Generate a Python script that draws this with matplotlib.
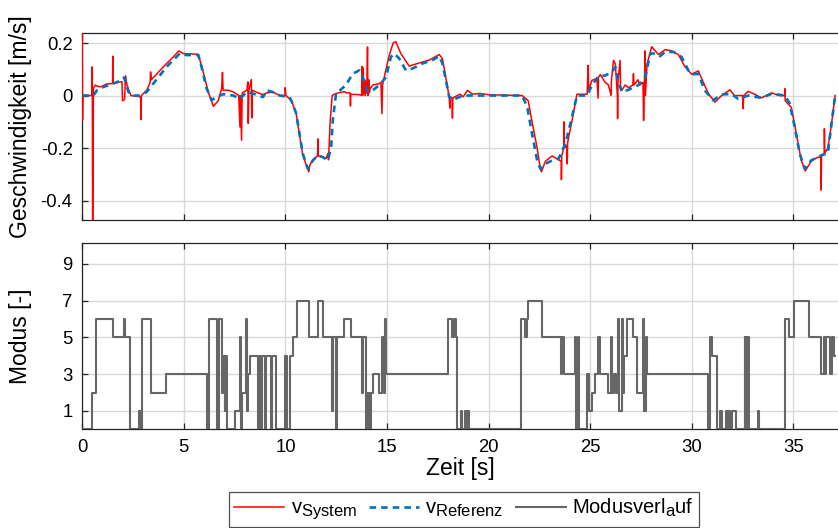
import matplotlib
matplotlib.use("Agg")
import matplotlib.pyplot as plt
try:
    import matplotlib._mathtext as _mt
    _mt.SHRINK_FACTOR = 0.82
except Exception:
    pass

plt.rcParams['font.family'] = ['Liberation Sans', 'DejaVu Sans']
plt.rcParams['axes.unicode_minus'] = False
plt.rcParams['mathtext.fontset'] = 'custom'
plt.rcParams['mathtext.rm'] = 'Liberation Sans'
plt.rcParams['mathtext.it'] = 'Liberation Sans:italic'

# ---------------- data ----------------
ref_t = [0, 0.55, 0.72, 1.05, 1.54, 1.95, 2.06, 2.27, 2.44, 2.84, 3.17, 3.5, 3.83, 4.15,
         4.48, 4.8, 5.13, 5.71, 5.87, 6.12, 6.37, 6.61, 6.94, 7.43, 7.76, 8.09, 8.5, 8.9,
         9.07, 9.39, 9.72, 10.2, 10.35, 10.53, 10.69, 10.85, 11.1, 11.35, 11.6, 11.85,
         12.09, 12.25, 12.33, 12.49, 12.66, 12.98, 13.31, 13.64, 13.8, 14.05, 14.3, 14.62,
         14.95, 15.19, 15.36, 15.6, 15.93, 16.26, 16.75, 17.24, 17.57, 17.73, 17.9, 18.06,
         18.22, 18.55, 18.87, 21.65, 21.9, 22.14, 22.39, 22.55, 22.8, 23.13, 23.45, 23.78,
         24.05, 24.35, 24.85, 25.09, 25.42, 25.74, 26.07, 26.24, 26.4, 26.56, 26.89, 27.38,
         27.71, 27.96, 28.2, 28.44, 28.69, 29.1, 29.5, 29.83, 30.08, 30.32, 30.65, 31.06,
         31.47, 31.96, 32.29, 32.78, 33.43, 33.94, 34.58, 34.82, 35.07, 35.31, 35.56, 35.88,
         36.37, 36.7, 36.86, 37.06]
ref_v = [0, 0, 0.02, 0.033, 0.046, 0.059, 0.069, 0.014, 0, 0, 0.014, 0.046, 0.078, 0.109,
         0.135, 0.16, 0.154, 0.154, 0.109, 0.027, -0.018, -0.005, 0.005, 0, -0.013, 0.014,
         0.005, -0.006, 0.02, 0.013, 0, -0.006, -0.03, -0.069, -0.145, -0.22, -0.279, -0.247,
         -0.228, -0.235, -0.247, -0.196, -0.095, 0.008, 0.018, 0.04, 0.083, 0.096, 0.07,
         0.014, 0.02, 0.04, 0.07, 0.147, 0.16, 0.141, 0.096, 0.103, 0.122, 0.135, 0.15,
         0.122, 0.058, -0.005, -0.018, -0.006, 0, 0, -0.043, -0.145, -0.247, -0.279, -0.26,
         -0.247, -0.24, -0.183, -0.1, 0, 0, 0.04, 0.074, 0.076, 0.09, 0.109, 0.051, 0.014,
         0.022, 0.04, 0.071, 0.16, 0.16, 0.15, 0.166, 0.166, 0.147, 0.096, 0.081, 0.083,
         0.019, -0.018, 0.004, 0.006, -0.013, 0.0, -0.009, 0.007, 0, -0.03, -0.12, -0.22,
         -0.279, -0.247, -0.228, -0.22, -0.12, 0]

sys_t = [0.0, 0.01, 0.03, 0.48, 0.49, 0.51, 0.55, 0.65, 0.72, 0.9, 1.2, 1.49, 1.50, 1.52,
         1.95, 1.98, 2.08, 2.13, 2.2, 2.39, 2.87, 2.89, 2.91, 3.17, 3.34, 3.36, 3.4, 3.83,
         4.15, 4.48, 4.75, 4.96, 5.71, 5.95, 6.2, 6.45, 6.69, 6.86, 6.9, 6.93, 7.2, 7.43,
         7.7, 7.76, 7.78, 7.84, 7.87, 8.1, 8.15, 8.17, 8.2, 8.32, 8.34, 8.37, 8.6, 8.9,
         9.07, 9.39, 9.72, 9.98, 9.99, 10.02, 10.3, 10.53, 10.69, 10.85, 11.05, 11.15, 11.2,
         11.35, 11.58, 11.6, 11.62, 11.85, 12.0, 12.09, 12.12, 12.2, 12.3, 12.4, 12.6, 12.9,
         13.0, 13.18, 13.2, 13.22, 13.7, 13.75, 13.77, 13.8, 13.83, 13.86, 13.9, 13.93,
         13.98, 14.0, 14.04, 14.06, 14.1, 14.13, 14.18, 14.21, 14.3, 14.6, 14.7, 14.75,
         14.78, 14.95, 15.1, 15.3, 15.43, 15.68, 16.09, 16.58, 17.08, 17.57, 17.73, 17.97,
         18.06, 18.09, 18.11, 18.2, 18.22, 18.24, 18.45, 18.6, 18.75, 18.96, 19.2, 19.6,
         20.0, 21.65, 21.95, 22.14, 22.39, 22.55, 22.6, 22.8, 23.13, 23.45, 23.58, 23.585,
         23.6, 23.7, 23.71, 23.73, 23.86, 23.87, 23.89, 24.11, 24.35, 24.85, 24.9, 24.92,
         25.09, 25.33, 25.39, 25.41, 25.5, 25.74, 25.9, 26.03, 26.05, 26.15, 26.24, 26.34,
         26.35, 26.37, 26.47, 26.5, 26.56, 26.72, 26.89, 27.1, 27.13, 27.16, 27.35, 27.45,
         27.6, 27.63, 27.66, 27.7, 27.72, 27.8, 28.03, 28.36, 28.69, 29.02, 29.34, 29.67,
         30.0, 30.32, 30.57, 30.82, 31.14, 31.47, 31.88, 32.1, 32.5, 32.53, 32.56, 32.78,
         33.1, 33.43, 33.94, 34.3, 34.57, 34.58, 34.6, 34.9, 35.15, 35.39, 35.59, 35.88,
         36.2, 36.36, 36.37, 36.39, 36.52, 36.53, 36.55, 36.7, 36.86, 37.06]
sys_v = [0.30, -0.094, 0.0, 0.0, 0.109, -0.50, 0.03, 0.04, 0.036, 0.033, 0.044, 0.046, 0.15,
         0.046, 0.053, -0.02, -0.015, 0.075, 0.04, 0.0, -0.005, -0.092, 0.0, 0.02, 0.05,
         0.09, 0.06, 0.096, 0.122, 0.147, 0.17, 0.16, 0.157, 0.09, 0.014, -0.041, -0.02,
         0.027, 0.088, 0.02, 0.02, 0.014, 0.0, -0.12, 0.0, -0.17, 0.01, 0.02, 0.052, -0.106,
         0.02, 0.061, -0.085, 0.02, 0.012, 0.003, 0.01, 0.013, 0.0, 0.0, 0.03, 0.0, -0.02,
         -0.069, -0.15, -0.225, -0.27, -0.29, -0.265, -0.245, -0.23, -0.165, -0.23, -0.235,
         -0.24, -0.22, -0.245, -0.1, 0.0, 0.005, 0.01, 0.015, 0.01, 0.01, -0.04, 0.005,
         0.003, 0.0, 0.11, 0.0, 0.105, 0.01, 0.06, 0.0, 0.05, 0.01, 0.185, 0.0, 0.06, 0.01,
         0.03, 0.03, 0.04, 0.045, 0.05, -0.069, 0.04, 0.1, 0.15, 0.2, 0.205, 0.16, 0.112,
         0.124, 0.135, 0.156, 0.14, 0.033, -0.005, -0.048, -0.005, -0.01, -0.086, -0.01, 0.0,
         0.005, -0.005, 0.02, 0.005, 0.008, 0.003, 0.0, -0.02, -0.1, -0.2, -0.28, -0.29,
         -0.25, -0.23, -0.245, -0.25, -0.32, -0.23, -0.2, -0.1, -0.2, -0.19, -0.26, -0.18,
         -0.094, 0.005, 0.005, 0.115, 0.02, 0.058, 0.065, -0.01, 0.07, 0.08, 0.05, 0.04,
         0.0, 0.06, 0.134, 0.12, 0.0, -0.088, 0.05, 0.134, 0.03, 0.02, 0.04, 0.03, 0.04,
         0.083, 0.04, 0.06, 0.04, 0.05, -0.095, 0.0, 0.17, 0.0, 0.12, 0.186, 0.156, 0.175,
         0.17, 0.156, 0.109, 0.081, 0.094, 0.05, 0.007, -0.025, 0.0, 0.022, 0.0, 0.0, -0.05,
         0.0, 0.016, 0.005, -0.009, 0.01, 0.0, 0.0, 0.026, -0.02, -0.045, -0.145, -0.247,
         -0.287, -0.25, -0.235, -0.235, -0.36, -0.23, -0.22, -0.126, -0.22, -0.2, -0.12, 0.0]

mode_t = [0.0, 0.47, 0.67, 1.50, 2.03, 2.10, 2.36, 2.81, 2.88, 2.95, 3.37, 4.10, 6.15, 6.22,
          6.64, 6.74, 6.89, 6.93, 7.00, 7.03, 7.10, 7.54, 7.75, 7.80, 7.84, 8.04, 8.08, 8.12,
          8.18, 8.27, 8.65, 8.70, 8.82, 8.87, 8.98, 9.03, 9.27, 9.32, 9.55, 9.99, 10.06,
          10.20, 10.36, 10.56, 11.14, 11.60, 11.87, 12.31, 12.36, 12.50, 12.55, 12.86, 13.23,
          13.77, 13.82, 13.98, 14.02, 14.05, 14.08, 14.11, 14.14, 14.18, 14.21, 14.30, 14.62,
          14.74, 14.84, 14.90, 14.96, 18.02, 18.20, 18.28, 18.40, 18.46, 18.66, 18.71, 18.83,
          18.87, 18.96, 19.04, 21.58, 21.79, 21.90, 21.95, 22.64, 23.54, 23.62, 23.70, 24.27,
          24.32, 24.40, 24.47, 24.84, 24.92, 25.09, 25.25, 25.38, 25.50, 25.90, 26.02, 26.07,
          26.15, 26.27, 26.39, 26.44, 26.56, 26.61, 26.69, 26.81, 27.09, 27.30, 27.62, 27.67,
          27.74, 27.79, 30.81, 30.90, 30.98, 31.22, 31.37, 31.47, 31.68, 31.75, 31.80, 31.90,
          32.00, 32.20, 32.60, 32.63, 32.66, 32.70, 32.74, 32.80, 33.25, 33.30, 34.60, 34.80,
          35.02, 35.77, 36.37, 36.49, 36.54, 36.62, 36.83, 36.90, 37.00, 37.06]
mode_v = [0, 2, 6, 5, 6, 5, 0, 1, 0, 6, 2, 3, 0, 6,
          0, 6, 2, 4, 1, 4, 0, 1, 5, 0, 2, 4, 6, 1,
          3, 4, 0, 4, 0, 4, 0, 4, 0, 4, 0, 4, 0,
          4, 5, 7, 5, 7, 5, 1, 5, 0, 5, 6, 5,
          2, 5, 0, 2, 0, 2, 1, 2, 0, 2, 3, 2,
          5, 2, 6, 3, 6, 5, 6, 5, 0, 1, 0, 1,
          0, 1, 0, 6, 5, 6, 7, 5, 3, 5, 3, 5,
          0, 5, 0, 3, 1, 2, 3, 5, 3, 2, 5, 2,
          3, 2, 6, 1, 6, 2, 4, 6, 5, 2, 6, 1,
          5, 3, 0, 5, 4, 0, 1, 0, 1, 0, 1, 0,
          1, 0, 5, 0, 5, 0, 5, 0, 1, 0, 6, 5,
          7, 5, 3, 5, 3, 5, 3, 5, 4, 4]

x_ticks = [0, 5, 10, 15, 20, 25, 30, 35]
v_ticks = [0.2, 0, -0.2, -0.4]
v_tick_labels = ['0.2', '0', '-0.2', '-0.4']
m_ticks = [1, 3, 5, 7, 9]

# ---------------- figure ----------------
W, H = 838, 528
fig = plt.figure(figsize=(W / 100, H / 100), dpi=100)

L = 82.3 / W
Wd = 1.0 - L
ax1 = fig.add_axes([L, 1 - 220 / H, Wd, (220 - 33.3) / H])
ax2 = fig.add_axes([L, 1 - 429.3 / H, Wd, (429.3 - 243.3) / H])

red = '#ff0000'
blue = '#0072bd'
gray = '#666666'
grid_c = '#d9d9d9'
spine_c = '#262626'

l1, = ax1.plot(sys_t, sys_v, color=red, lw=1.1, zorder=3)
l2, = ax1.plot(ref_t, ref_v, color=blue, lw=1.9, linestyle=(0, (2.5, 1.9)), zorder=4)
l3, = ax2.step(mode_t, mode_v, where='post', color=gray, lw=1.5, zorder=3)

for ax in (ax1, ax2):
    ax.set_xlim(0, 37.2)
    ax.set_xticks(x_ticks)
    ax.grid(True, color=grid_c, lw=1.0)
    ax.set_axisbelow(True)
    ax.tick_params(direction='in', length=4, width=0.9, color=spine_c,
                   labelsize=13.3, labelcolor='black', top=True, right=False, pad=7)
    for s in ('left', 'top', 'bottom'):
        ax.spines[s].set_color(spine_c)
        ax.spines[s].set_linewidth(0.9)
    ax.spines['right'].set_visible(False)

ax1.set_ylim(-0.474, 0.237)
ax1.set_yticks(v_ticks)
ax1.set_yticklabels(v_tick_labels)
ax1.tick_params(labelbottom=False)
ax1.set_ylabel('Geschwindigkeit [m/s]', fontsize=16.5)
ax1.yaxis.set_label_coords(-0.066, 0.5)

ax2.set_ylim(0, 10.12)
ax2.set_yticks(m_ticks)
ax2.set_ylabel('Modus [-]', fontsize=16.5)
ax2.yaxis.set_label_coords(-0.066, 0.5)
ax2.set_xlabel('Zeit [s]', fontsize=16.5)
ax2.xaxis.set_label_coords(0.5, -0.15)

leg = fig.legend([l1, l2, l3],
                 [r'v$_{\rm System}$', r'v$_{\rm Referenz}$', r'Modusverl$_{\rm a}$uf'],
                 loc='center', bbox_to_anchor=(463.9 / W, 1 - 509.2 / H), ncol=3,
                 fontsize=14.5, frameon=True, fancybox=False, edgecolor='#262626',
                 handlelength=2.5, handletextpad=0.3, columnspacing=0.6, borderpad=0.25,
                 borderaxespad=0)
leg.get_frame().set_linewidth(0.9)

fig.savefig('out.png', dpi=100)
